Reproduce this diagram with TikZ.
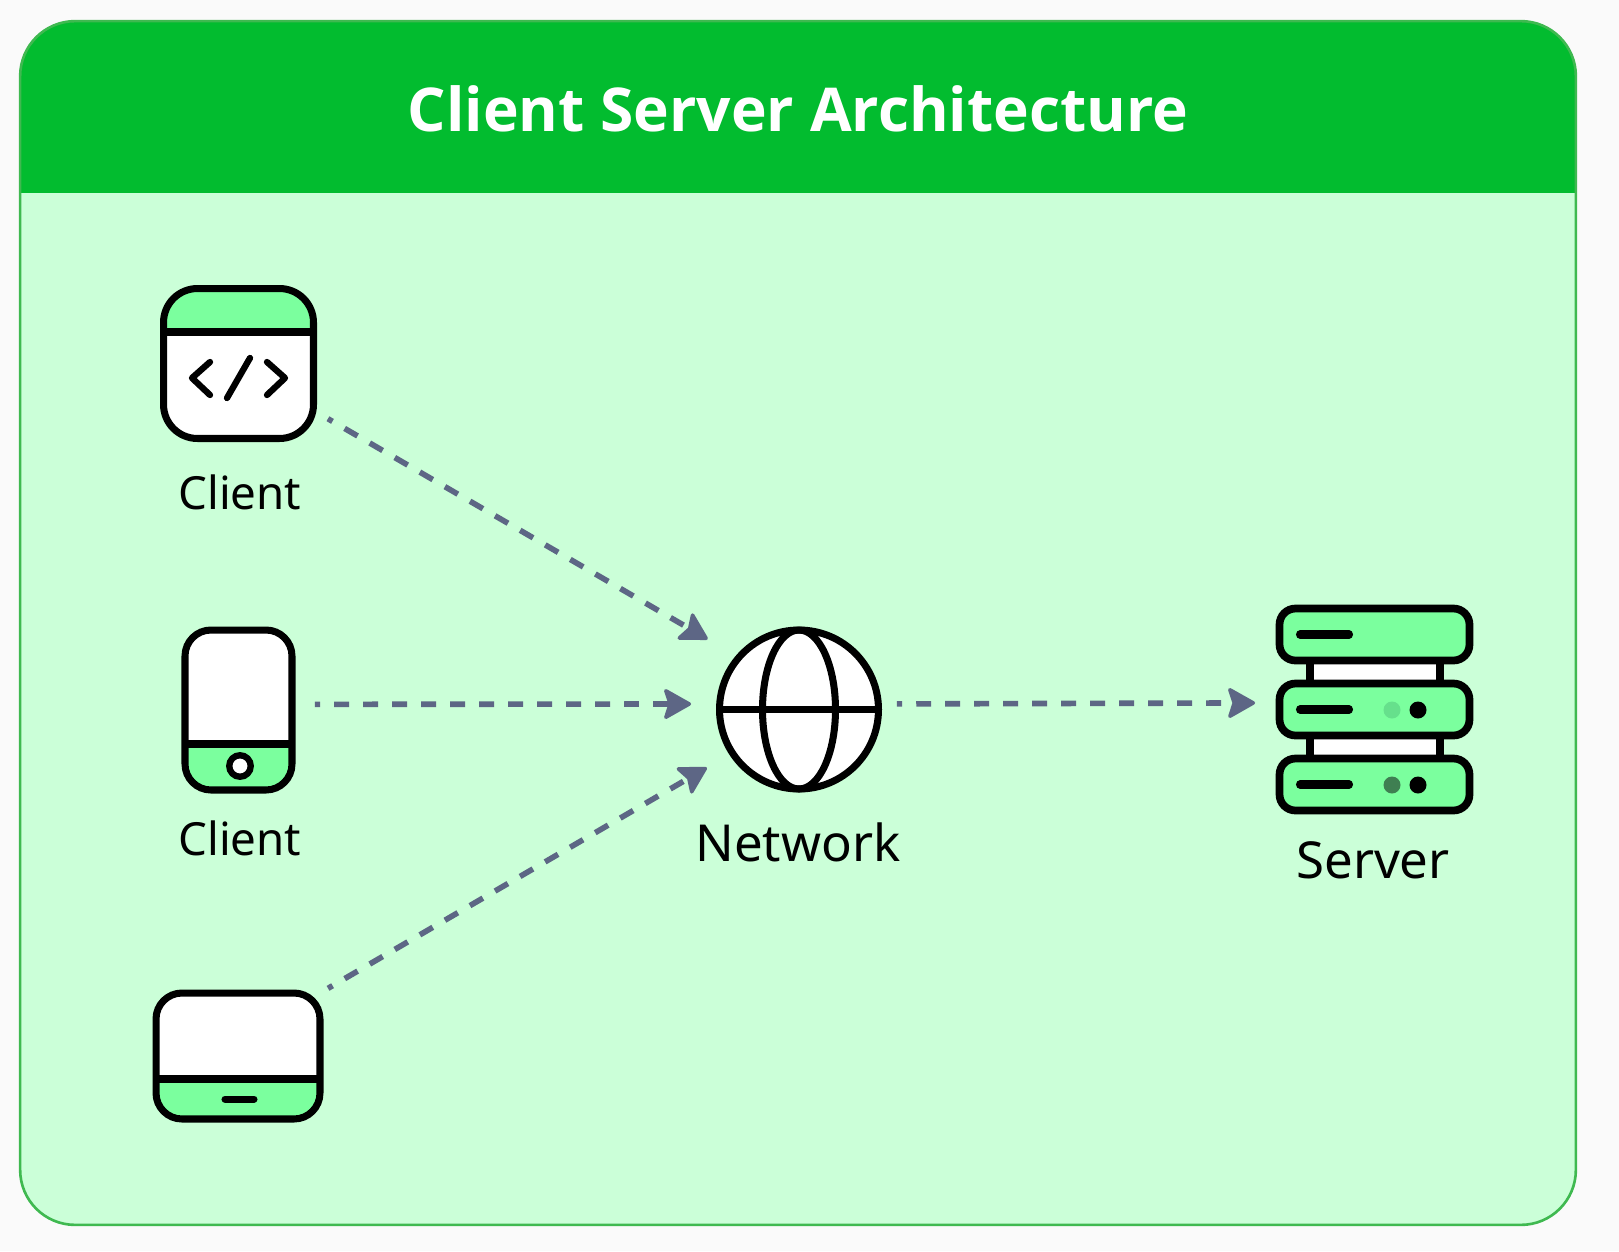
\documentclass[tikz,border=0pt]{standalone}
\usepackage{fontspec}
\setmainfont{Noto Sans}
\newfontfamily\titlefont{Open Sans}
\usetikzlibrary{arrows.meta}
\definecolor{page}{HTML}{FAFAFA}
\definecolor{header}{HTML}{02BC2F}
\definecolor{panelfill}{HTML}{CBFFD8}
\definecolor{panelline}{HTML}{3FB950}
\definecolor{mint}{HTML}{7BFF9E}
\definecolor{flowgrey}{HTML}{5D6685}
\definecolor{ledlight}{HTML}{66E08C}
\definecolor{leddark}{HTML}{3F7F52}
\tikzset{
    iconline/.style={draw=black,line width=4pt,line cap=round},
    iconbox/.style={iconline,fill=white,inner sep=0pt,outer sep=0pt},
    topband/.style={path picture={
        \fill[mint,sharp corners] (path picture bounding box.north west) rectangle ([yshift=-#1]path picture bounding box.north east);
        \draw[iconline,sharp corners] ([yshift=-#1]path picture bounding box.north west) -- ([yshift=-#1]path picture bounding box.north east);}},
    bottomband/.style={path picture={
        \fill[mint,sharp corners] (path picture bounding box.south west) rectangle ([yshift=#1]path picture bounding box.south east);
        \draw[iconline,sharp corners] ([yshift=#1]path picture bounding box.south west) -- ([yshift=#1]path picture bounding box.south east);}},
    srvunit/.style={iconbox,line width=4.4pt,fill=mint,minimum width=3.8cm,minimum height=1.04cm,rounded corners=0.32cm},
    flow/.style={draw=flowgrey,line width=3.2pt,dash pattern=on 8.5pt off 8pt,dash phase=5.5pt,
        -{Stealth[length=17pt,width=19pt,inset=3pt,round,line width=2pt]}},
    label/.style={anchor=base,text=black,inner sep=0pt}
}
\begin{document}
\begin{tikzpicture}[x=0.02cm,y=-0.02cm]
    \useasboundingbox[fill=page] (0,0) rectangle (1619,1251);
    \node[draw=panelline,line width=1.5pt,fill=panelfill,rounded corners=1.1cm,inner sep=0pt,outer sep=0pt,
        minimum width=31.12cm,minimum height=24.08cm,path picture={
            \fill[header,sharp corners] (path picture bounding box.north west) rectangle ([yshift=-3.44cm]path picture bounding box.north east);
        }] (panel) at (798,623) {};
    \node[label,font=\titlefont\fontsize{34.4}{35}\selectfont\bfseries,text=white] (title) at (798,131) {Client Server Architecture};

    % clients
    \node[iconbox,minimum width=3cm,minimum height=3cm,rounded corners=0.68cm,topband=0.87cm] (webclient) at (238.5,363.5) {};
    \draw[iconline,line width=3.6pt,line join=round] (210,362) -- (192,378) -- (210,395);
    \draw[iconline,line width=3.6pt] (250,358) -- (227,398);
    \draw[iconline,line width=3.6pt,line join=round] (267,362) -- (285,378) -- (267,395);
    \node[label,font=\fontsize{26}{26}\selectfont] (webclientlabel) at (240,509) {Client};

    \node[iconbox,minimum width=2.14cm,minimum height=3.2cm,rounded corners=0.52cm,bottomband=0.92cm] (phone) at (238.5,710) {};
    \node[iconbox,line width=3.6pt,circle,minimum size=0.43cm] (phonebutton) at (240,766) {};
    \node[label,font=\fontsize{26}{26}\selectfont] (phonelabel) at (240,855) {Client};

    \node[iconbox,minimum width=3.28cm,minimum height=2.52cm,rounded corners=0.52cm,bottomband=0.8cm] (tablet) at (238,1056) {};
    \draw[iconline] (225,1099) -- (254,1099);

    % network
    \node[iconbox,circle,minimum size=3.18cm] (network) at (799,709.5) {};
    \draw[iconline] (network.west) -- (network.east);
    \draw[iconline] (network.center) ellipse [x radius=36.5,y radius=79.5];
    \node[label,font=\fontsize{29}{29}\selectfont] (networklabel) at (798,861) {Network};

    % server
    \draw[iconline,line width=4.4pt,fill=white] (1310,650) rectangle (1440,770);
    \foreach \unit/\y in {srvtop/634.5,srvmid/709.5,srvbot/784.5}{
        \node[srvunit] (\unit) at (1374.5,\y) {};
        \draw[iconline,line width=4.6pt] (1300,\y) -- (1349,\y);
    }
    \fill[black] (1418,710) circle [radius=8.5];
    \fill[black] (1418,785) circle [radius=8.5];
    \fill[ledlight] (1392,710) circle [radius=8.5];
    \fill[leddark] (1392,785) circle [radius=8.5];
    \node[label,font=\fontsize{29}{29}\selectfont] (serverlabel) at (1373,878) {Server};

    % connectors
    \draw[flow,shorten <=9.5pt,shorten >=20.6pt] (webclient.-32) -- (network.139.8);
    \draw[flow,shorten <=13pt,shorten >=16.3pt] (phone.6.5) -- (network.176);
    \draw[flow,shorten <=5.3pt,shorten >=16.8pt] (tablet.north east) -- (network.213.4);
    \draw[flow,shorten <=10.6pt,shorten >=13.9pt] (network.4) -- (srvmid.176.7);
\end{tikzpicture}
\end{document}
